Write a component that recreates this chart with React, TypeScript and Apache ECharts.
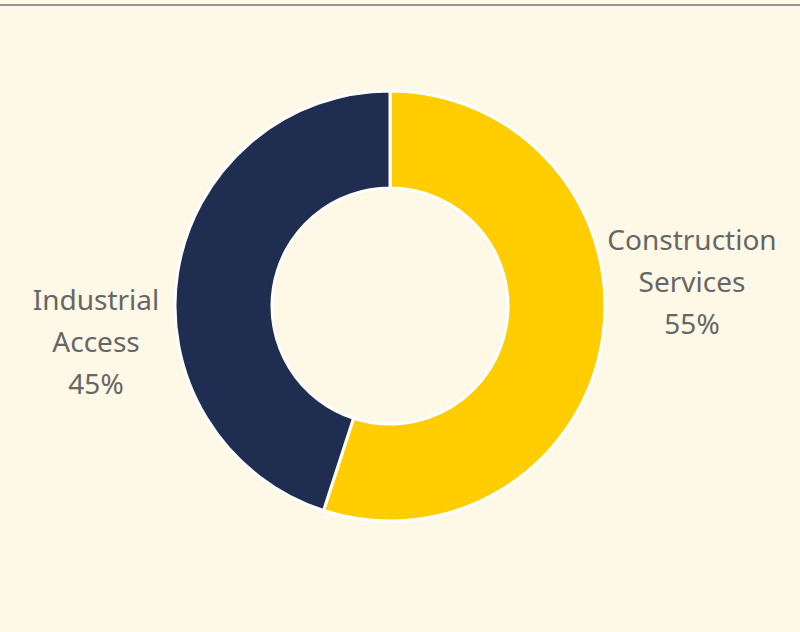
import React, { useEffect, useRef } from "react";
import * as echarts from "echarts";

const categories = ["Construction Services", "Industrial Access"];
const values = [55, 45];
const colors = ["#FFCD00", "#1F2D50"];
// label anchor positions (layout only)
const labelPos = [
  [692, 281],
  [96, 341],
];

export default function App() {
  const ref = useRef<HTMLDivElement>(null);
  useEffect(() => {
    document.body.style.margin = "0";
    const chart = echarts.init(ref.current!, null, { renderer: "svg" });
    chart.setOption({
      animation: false,
      backgroundColor: "#FEF8E7",
      graphic: [
        {
          type: "line",
          shape: { x1: 0, y1: 5, x2: 800, y2: 5 },
          style: { stroke: "#959595", lineWidth: 2 },
        },
      ],
      series: [
        {
          type: "pie",
          center: [390, 306],
          radius: [118, 215],
          startAngle: 90,
          clockwise: true,
          itemStyle: { borderColor: "#ffffff", borderWidth: 3 },
          label: {
            show: true,
            position: "outside",
            alignTo: "none",
            overflow: "none",
            color: "#666666",
            fontFamily: "Noto Sans",
            fontSize: 28,
            lineHeight: 42,
            align: "center",
            formatter: (p: any) =>
              p.name.split(" ").join("\n") + "\n" + Math.round(p.percent) + "%",
          },
          labelLine: { show: false },
          labelLayout: (params: any) => {
            const pos = labelPos[params.dataIndex];
            return { x: pos[0], y: pos[1], align: "center", verticalAlign: "middle" };
          },
          emphasis: { disabled: true },
          data: categories.map((c, i) => ({
            name: c,
            value: values[i],
            itemStyle: { color: colors[i] },
          })),
        },
      ],
    });
    return () => chart.dispose();
  }, []);
  return <div ref={ref} style={{ width: 800, height: 632 }} />;
}
